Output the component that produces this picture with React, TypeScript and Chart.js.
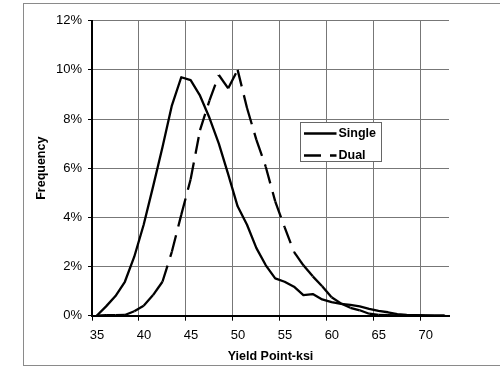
import React, { useEffect, useRef } from "react";
import { Chart, registerables } from "chart.js";

Chart.register(...registerables);

// ---- Data ----
const binCenters = [
  35.5, 36.5, 37.5, 38.5, 39.5, 40.5, 41.5, 42.5, 43.5, 44.5,
  45.5, 46.5, 47.5, 48.5, 49.5, 50.5, 51.5, 52.5, 53.5, 54.5,
  55.5, 56.5, 57.5, 58.5, 59.5, 60.5, 61.5, 62.5, 63.5, 64.5,
  65.5, 66.5, 67.5, 68.5, 69.5, 70.5, 71.5, 72.5,
];
const singleFreq = [
  0, 0.38, 0.8, 1.38, 2.4, 3.7, 5.25, 6.85, 8.55, 9.7,
  9.58, 8.95, 8.05, 7.0, 5.75, 4.45, 3.7, 2.75, 2.05, 1.52,
  1.38, 1.18, 0.84, 0.88, 0.66, 0.55, 0.48, 0.44, 0.38, 0.28,
  0.2, 0.14, 0.06, 0.03, 0.02, 0.01, 0, 0,
];
const dualFreq = [
  0, 0.02, 0.02, 0.03, 0.18, 0.4, 0.84, 1.38, 2.6, 4.1,
  5.55, 7.55, 8.75, 9.79, 9.25, 10.0, 8.45, 7.15, 6.05, 4.65,
  3.6, 2.6, 2.05, 1.6, 1.2, 0.75, 0.5, 0.32, 0.22, 0.08,
  0.03, 0.02, 0.01, 0.01, 0.01, 0, 0, 0,
];
const seriesLabels = ["Single", "Dual"];
const xTickValues = [35, 40, 45, 50, 55, 60, 65, 70];
const yTickValues = [0, 2, 4, 6, 8, 10, 12];
const xTitle = "Yield Point-ksi";
const yTitle = "Frequency";

const FONT = "'Liberation Sans', Arial, Helvetica, sans-serif";
const DASH = [17, 9];
const LINE_W = 2.3;

const pageBorderPlugin = {
  id: "pageBorder",
  beforeDraw(chart: any) {
    const ctx = chart.ctx;
    ctx.save();
    ctx.fillStyle = "#ffffff";
    ctx.fillRect(0, 0, chart.width, chart.height);
    ctx.strokeStyle = "#8a8a8a";
    ctx.lineWidth = 1;
    ctx.strokeRect(23.5, 3.5, 495, 362);
    ctx.restore();
  },
};

const boxLegendPlugin = {
  id: "boxLegend",
  afterDatasetsDraw(chart: any) {
    const ctx = chart.ctx;
    const ds = chart.data.datasets;
    ctx.save();
    ctx.fillStyle = "#ffffff";
    ctx.fillRect(300.5, 122.5, 81, 39);
    ctx.strokeStyle = "#666666";
    ctx.lineWidth = 1;
    ctx.strokeRect(300.5, 122.5, 81, 39);
    const rows = [133.5, 155.5];
    ds.forEach((d: any, i: number) => {
      const y = rows[i];
      ctx.beginPath();
      ctx.strokeStyle = "#000";
      ctx.lineWidth = LINE_W;
      ctx.setLineDash(d.legendDash || []);
      ctx.moveTo(304, y);
      ctx.lineTo(336.5, y);
      ctx.stroke();
      ctx.setLineDash([]);
      ctx.fillStyle = "#000";
      ctx.font = `bold 12.5px ${FONT}`;
      ctx.textBaseline = "middle";
      ctx.textAlign = "left";
      ctx.fillText(d.label, 338.5, y + 0.5);
    });
    ctx.restore();
  },
};

export default function App() {
  const ref = useRef<HTMLCanvasElement | null>(null);

  useEffect(() => {
    if (!ref.current) return;
    const single = binCenters.map((x, i) => ({ x, y: singleFreq[i] }));
    const dual = binCenters.map((x, i) => ({ x, y: dualFreq[i] }));
    const chart = new Chart(ref.current, {
      type: "line",
      data: {
        datasets: [
          {
            label: seriesLabels[0],
            data: single,
            borderColor: "#000",
            borderWidth: LINE_W,
            pointRadius: 0,
            tension: 0,
            borderJoinStyle: "round",
            borderCapStyle: "round",
            legendDash: [],
          } as any,
          {
            label: seriesLabels[1],
            data: dual,
            borderColor: "#000",
            borderWidth: LINE_W,
            pointRadius: 0,
            tension: 0,
            borderDash: DASH,
            borderCapStyle: "butt",
            legendDash: DASH,
            segment: {
              // restart the dash pattern at every vertex (as the original does)
              borderDashOffset: (c: any) => (c.p0DataIndex % 2 ? 0.0001 : 0),
            },
          } as any,
        ],
      },
      options: {
        responsive: false,
        animation: false,
        devicePixelRatio: 1,
        layout: { padding: { top: 20.7, right: 51, left: 0, bottom: 0 } },
        plugins: {
          legend: { display: false },
          tooltip: { enabled: false },
          title: { display: false },
        },
        scales: {
          x: {
            type: "linear",
            min: 35,
            max: 73,
            afterBuildTicks: (s: any) => {
              s.ticks = xTickValues.map((v) => ({ value: v }));
            },
            afterFit: (s: any) => {
              s.height = 60.3;
            },
            ticks: {
              color: "#000",
              font: { family: FONT, size: 13 },
              padding: 7,
              labelOffset: 5,
              maxRotation: 0,
              autoSkip: false,
            },
            grid: {
              color: "#777777",
              lineWidth: 1,
              tickColor: "#000",
              tickLength: 5,
            },
            border: { color: "#000", width: 2 },
            title: {
              display: true,
              text: xTitle,
              color: "#000",
              font: { family: FONT, size: 12.5, weight: "bold" },
              padding: { top: 0, bottom: 11.8 },
            },
          },
          y: {
            type: "linear",
            min: 0,
            max: 12,
            afterBuildTicks: (s: any) => {
              s.ticks = yTickValues.map((v) => ({ value: v }));
            },
            afterFit: (s: any) => {
              s.width = 92;
            },
            ticks: {
              color: "#000",
              font: { family: FONT, size: 13 },
              padding: 6,
              callback: (v: any) => `${v}%`,
            },
            grid: {
              color: "#777777",
              lineWidth: 1,
              tickColor: "#000",
              tickLength: 4,
            },
            border: { color: "#000", width: 2 },
            title: {
              display: true,
              text: yTitle,
              color: "#000",
              font: { family: FONT, size: 12.5, weight: "bold" },
              padding: { top: 34.2, bottom: 0 },
            },
          },
        },
      } as any,
      plugins: [pageBorderPlugin, boxLegendPlugin],
    });
    return () => chart.destroy();
  }, []);

  return (
    <div style={{ position: "fixed", left: 0, top: 0, width: 500, height: 376 }}>
      <canvas ref={ref} width={500} height={376} style={{ display: "block" }} />
    </div>
  );
}
